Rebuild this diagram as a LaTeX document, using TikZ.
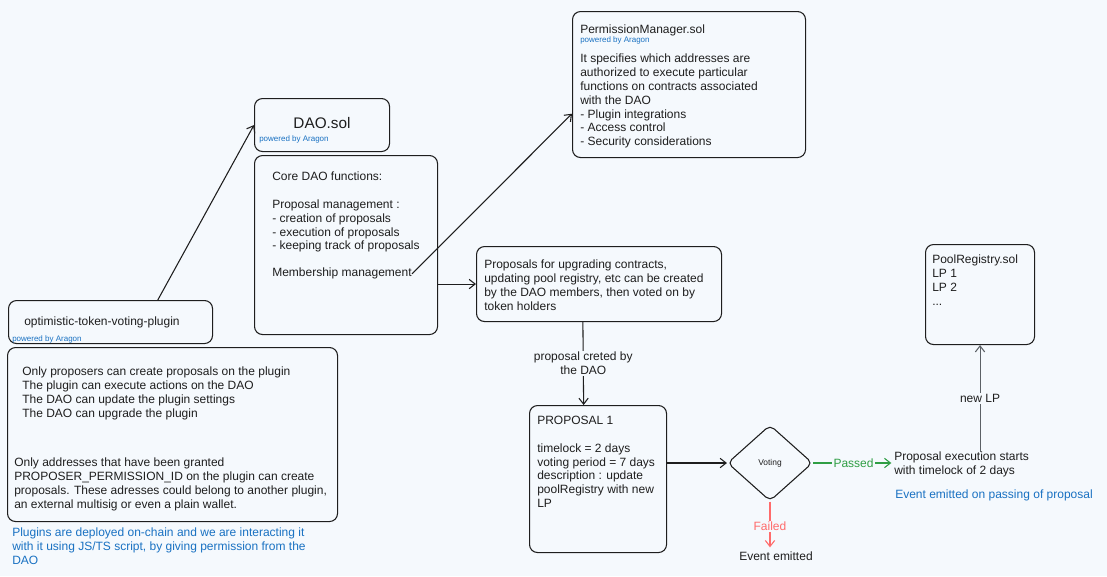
\documentclass[tikz,border=0pt]{standalone}
\usepackage{fontspec}
\setmainfont{Liberation Sans}
\usepackage[x11names]{xcolor}
\usepackage{tikz}
\usetikzlibrary{positioning, arrows, arrows.meta, calc, shapes.geometric}
\definecolor{canvas}{HTML}{F5F9FD}
\definecolor{ink}{HTML}{1E1E1E}
\definecolor{aragon}{HTML}{1971C2}
\definecolor{okgreen}{HTML}{2F9E44}
\definecolor{failred}{HTML}{FF6B6B}
\definecolor{lpgray}{HTML}{5C6166}

\begin{document}
\begin{tikzpicture}[x=0.75pt,y=0.75pt,yscale=-1,xscale=1,
        box/.style 2 args={draw=ink, line width=0.8pt, rounded corners=6pt, anchor=north west, inner sep=0pt, minimum width=#1*0.75pt, minimum height=#2*0.75pt},
        txt/.style={anchor=north west, align=left, inner sep=0pt, text=ink, font=\fontsize{9}{10.35}\selectfont},
        powered/.style={anchor=west, inner sep=0pt, text=aragon, font=\fontsize{6}{7}\selectfont},
        note/.style={txt, text=aragon},
        link/.style={draw=ink, line width=0.8pt, -{Straight Barb[length=4.5pt,width=7pt]}},
        lbl/.style={midway, fill=canvas, inner sep=1pt, align=center, font=\fontsize{9}{10.35}\selectfont}
    ]
        \useasboundingbox (0,0) rectangle (1107,576);
        \fill[canvas] (0,0) rectangle (1107,576);

        %Rounded Rect [plugin title]
        \node[box={204}{43}] (opt) at (8,300) {};
        \node[txt] (optname) at (24,317) {optimistic-token-voting-plugin};
        \node[powered] (optpow) at (12,339) {powered by Aragon};
        %Rounded Rect [plugin rules]
        \node[box={330}{174}] (info) at (7,347) {};
        \node[txt] (infoa) at (22,367) {Only proposers can create proposals on the plugin\\The plugin can execute actions on the DAO\\The DAO can update the plugin settings\\The DAO can upgrade the plugin};
        \node[txt] (infob) at (14,458) {Only addresses that have been granted\\PROPOSER\_PERMISSION\_ID on the plugin can create\\proposals. These adresses could belong to another plugin,\\an external multisig or even a plain wallet.};
        %Text Node [deploy note]
        \node[note] (deploy) at (12,528) {Plugins are deployed on-chain and we are interacting it\\with it using JS/TS script, by giving permission from the\\DAO};

        %Rounded Rect [DAO.sol]
        \node[box={135}{53}] (daosol) at (254,98) {};
        \node[inner sep=0pt, text=ink, font=\fontsize{11.5}{13}\selectfont] (daoname) at (322,123) {DAO.sol};
        \node[powered] (daopow) at (259,139) {powered by Aragon};
        %Rounded Rect [DAO functions]
        \node[box={183}{179}] (daofn) at (254,155) {};
        \node[txt] (daotxt) at (272,172) {Core DAO functions:\\[10.35pt]Proposal management :\\- creation of proposals\\- execution of proposals\\- keeping track of proposals};
        \node[txt] (memb) at (272,268) {Membership management};

        %Rounded Rect [PermissionManager.sol]
        \node[box={233}{146}] (perm) at (572,11) {};
        \node[txt] (permname) at (580,25) {PermissionManager.sol};
        \node[powered] (permpow) at (580,40) {powered by Aragon};
        \node[txt] (permtxt) at (580,54) {It specifies which addresses are\\authorized to execute particular\\functions on contracts associated\\with the DAO\\- Plugin integrations\\- Access control\\- Security considerations};

        %Rounded Rect [proposals]
        \node[box={245}{75}] (props) at (476,246) {};
        \node[txt] (propstxt) at (484,260) {Proposals for upgrading contracts,\\updating pool registry, etc can be created\\by the DAO members, then voted on by\\token holders};

        %Rounded Rect [proposal 1]
        \node[box={137}{147}] (prop1) at (529,405) {};
        \node[txt] (prop1txt) at (537,416) {PROPOSAL 1\\[10.35pt]timelock = 2 days\\voting period = 7 days\\description : update\\poolRegistry with new\\LP};

        %Diamond [voting]
        \node[draw=ink, line width=0.8pt, diamond, rounded corners=4pt, minimum width=85*0.75pt, minimum height=76*0.75pt, inner sep=0pt, text=ink, font=\fontsize{6.3}{7}\selectfont] (vote) at (770,463) {Voting};

        %Text Node [execution]
        \node[txt] (exec) at (894,452) {Proposal execution starts\\with timelock of 2 days};
        \node[note] (passnote) at (895,490) {Event emitted on passing of proposal};
        \node[txt, anchor=center] (evt) at (776,556) {Event emitted};

        %Rounded Rect [PoolRegistry.sol]
        \node[box={109}{100}] (pool) at (925,244) {};
        \node[txt] (pooltxt) at (932,255) {PoolRegistry.sol\\LP 1\\LP 2\\...};

        %Straight Lines [connectors]
        \draw[link] (opt.25) -- (daosol.west);
        \draw[link] (memb.east) -- (perm.194);
        \draw[link] (daofn.east |- props.west) -- (props.west);
        \draw[link] (props.247) -- (prop1.101) node[lbl, text=ink] {proposal creted by\\the DAO};
        \draw[link] (vote.west -| prop1.east) -- (vote.west);
        \draw[link, draw=okgreen, shorten >=2pt] (vote.east) -- (exec.west |- vote.east) node[lbl, text=okgreen] {Passed};
        \draw[link, draw=failred, shorten >=3pt] (vote.south) -- (vote.south |- evt.north) node[lbl, text=failred] {Failed};
        \draw[link, draw=lpgray] (exec.north -| pool.south) -- (pool.south) node[lbl, text=ink] {new LP};

    \end{tikzpicture}
\end{document}
